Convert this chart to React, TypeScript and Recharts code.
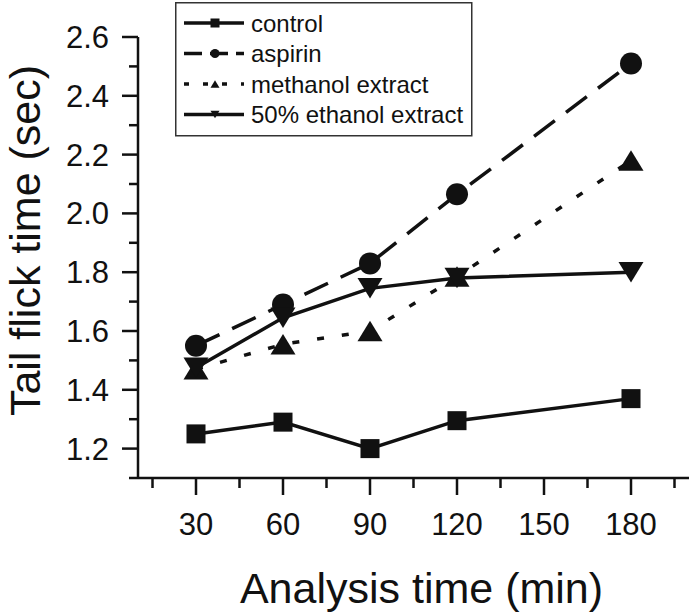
import { LineChart, Line, XAxis, YAxis, Legend } from 'recharts';

const times = [30, 60, 90, 120, 180];
const control = [1.25, 1.29, 1.2, 1.295, 1.37];
const aspirin = [1.55, 1.69, 1.83, 2.065, 2.51];
const methanol = [1.47, 1.555, 1.6, 1.785, 2.18];
const ethanol = [1.475, 1.645, 1.745, 1.78, 1.8];

const xTicks = [15, 30, 45, 60, 75, 90, 105, 120, 135, 150, 165, 180, 195];
const xMajor = [30, 60, 90, 120, 150, 180];
const yTicks = [1.1, 1.2, 1.3, 1.4, 1.5, 1.6, 1.7, 1.8, 1.9, 2.0, 2.1, 2.2, 2.3, 2.4, 2.5, 2.6];
const yMajor = [1.2, 1.4, 1.6, 1.8, 2.0, 2.2, 2.4, 2.6];

const seriesNames = ['control', 'aspirin', 'methanol extract', '50% ethanol extract'];

const data = times.map((t, i) => ({
  time: t,
  control: control[i],
  aspirin: aspirin[i],
  methanol: methanol[i],
  ethanol: ethanol[i],
}));

const FONT = '"Liberation Sans", Arial, Helvetica, sans-serif';
const INK = '#111';

function marker(kind: string, cx: number, cy: number, s: number, key?: string | number) {
  if (kind === 'square') {
    return <rect key={key} x={cx - s / 2} y={cy - s / 2} width={s} height={s} fill={INK} />;
  }
  if (kind === 'circle') {
    return <circle key={key} cx={cx} cy={cy} r={s / 2} fill={INK} />;
  }
  const h = s * 0.82;
  if (kind === 'up') {
    return (
      <polygon
        key={key}
        points={`${cx - s / 2},${cy + h / 2} ${cx + s / 2},${cy + h / 2} ${cx},${cy - h / 2}`}
        fill={INK}
      />
    );
  }
  return (
    <polygon
      key={key}
      points={`${cx - s / 2},${cy - h / 2} ${cx + s / 2},${cy - h / 2} ${cx},${cy + h / 2}`}
      fill={INK}
    />
  );
}

const dotOf = (kind: string, s: number) => (p: any) => marker(kind, p.cx, p.cy, s, `${kind}-${p.index}`);

function XTick(props: any) {
  const { x, y, payload } = props;
  const v = payload.value;
  const major = xMajor.includes(v);
  return (
    <g>
      <line x1={x} y1={y} x2={x} y2={y + (major ? 17 : 10)} stroke={INK} strokeWidth={2.5} />
      {major && (
        <text x={x} y={y + 57} textAnchor="middle" fontSize={31} fontFamily={FONT} fill={INK}>
          {v}
        </text>
      )}
    </g>
  );
}

function YTick(props: any) {
  const { x, y, payload } = props;
  const v = payload.value;
  const major = yMajor.some((m) => Math.abs(m - v) < 1e-6);
  return (
    <g>
      <line x1={x} y1={y} x2={x - (major ? 16 : 9)} y2={y} stroke={INK} strokeWidth={2.5} />
      {major && (
        <text x={x - 29} y={y + 11} textAnchor="end" fontSize={31} fontFamily={FONT} fill={INK}>
          {v.toFixed(1)}
        </text>
      )}
    </g>
  );
}

const legendRows = [
  { name: seriesNames[0], kind: 'square', dash: undefined },
  { name: seriesNames[1], kind: 'circle', dash: '18 8' },
  { name: seriesNames[2], kind: 'up', dash: '5 14' },
  { name: seriesNames[3], kind: 'down', dash: undefined },
];

function LegendBox() {
  return (
    <svg width={298} height={135} style={{ display: 'block' }}>
      <rect x={0.75} y={0.75} width={296} height={133} fill="#fff" stroke="#333" strokeWidth={1.5} />
      {legendRows.map((r, i) => {
        const cy = 21 + i * 30.5;
        return (
          <g key={r.name}>
            <line x1={9} y1={cy} x2={69} y2={cy} stroke={INK} strokeWidth={3.5} strokeDasharray={r.dash} />
            {marker(r.kind, 40, cy, 9)}
            <text x={76} y={cy + 8.5} fontSize={24} fontFamily={FONT} fill={INK}>
              {r.name}
            </text>
          </g>
        );
      })}
    </svg>
  );
}

export default function App() {
  return (
    <div style={{ position: 'absolute', left: 0, top: 0, background: '#fff' }}>
      <LineChart
        width={693}
        height={614}
        data={data}
        margin={{ top: 37, right: 4, bottom: 6, left: 8 }}
      >
        <XAxis
          dataKey="time"
          type="number"
          domain={[10, 200]}
          ticks={xTicks}
          interval={0}
          height={130}
          tickSize={0}
          tickMargin={0}
          tickLine={false}
          tick={<XTick />}
          axisLine={{ stroke: INK, strokeWidth: 2.5 }}
          label={{
            value: 'Analysis time (min)',
            content: (p: any) => {
              const vb = p.viewBox;
              return (
                <text
                  x={vb.x + vb.width / 2 + 8}
                  y={vb.y + 125}
                  textAnchor="middle"
                  fontSize={43}
                  fontFamily={FONT}
                  fill={INK}
                >
                  Analysis time (min)
                </text>
              );
            },
          }}
        />
        <YAxis
          type="number"
          domain={[1.1, 2.6]}
          ticks={yTicks}
          interval={0}
          width={130}
          tickSize={0}
          tickMargin={0}
          tickLine={false}
          tick={<YTick />}
          axisLine={{ stroke: INK, strokeWidth: 2.5 }}
          allowDataOverflow
          label={{
            value: 'Tail flick time (sec)',
            content: (p: any) => {
              const vb = p.viewBox;
              const cx = 25;
              const cy = vb.y + vb.height / 2 - 17;
              return (
                <text
                  x={cx}
                  y={cy}
                  transform={`rotate(-90 ${cx} ${cy})`}
                  textAnchor="middle"
                  dominantBaseline="central"
                  fontSize={43}
                  fontFamily={FONT}
                  fill={INK}
                >
                  Tail flick time (sec)
                </text>
              );
            },
          }}
        />
        <Legend
          layout="vertical"
          align="center"
          verticalAlign="middle"
          content={() => <LegendBox />}
          wrapperStyle={{ position: 'absolute', left: 175, top: 2, width: 298, height: 135 }}
        />
        <Line
          dataKey="control"
          name={seriesNames[0]}
          stroke={INK}
          strokeWidth={3.5}
          dot={dotOf('square', 19)}
          isAnimationActive={false}
        />
        <Line
          dataKey="aspirin"
          name={seriesNames[1]}
          stroke={INK}
          strokeWidth={3.5}
          strokeDasharray="26 14"
          dot={dotOf('circle', 22)}
          isAnimationActive={false}
        />
        <Line
          dataKey="methanol"
          name={seriesNames[2]}
          stroke={INK}
          strokeWidth={3.5}
          strokeDasharray="7 18"
          dot={dotOf('up', 25)}
          isAnimationActive={false}
        />
        <Line
          dataKey="ethanol"
          name={seriesNames[3]}
          stroke={INK}
          strokeWidth={3.5}
          dot={dotOf('down', 25)}
          isAnimationActive={false}
        />
      </LineChart>
    </div>
  );
}
